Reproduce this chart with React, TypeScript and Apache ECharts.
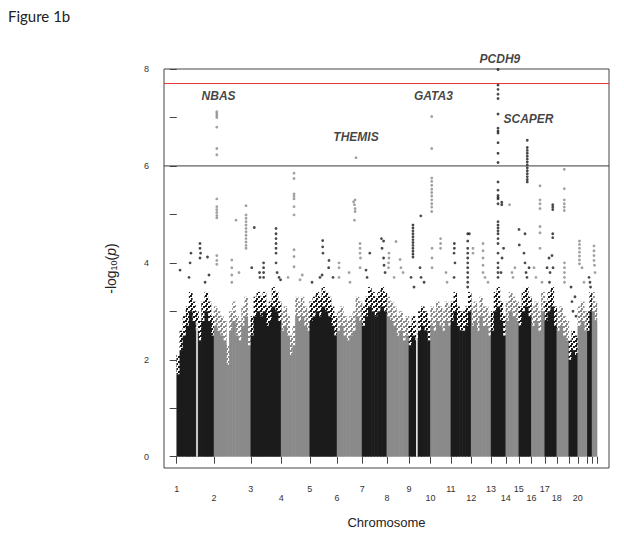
import React, { useEffect, useRef } from "react";
import * as echarts from "echarts";

// ---- data ----
const chromosomes = ["1","2","3","4","5","6","7","8","9","10","11","12","13","14","15","16","17","18","19","20","21","22"];
// plotted span of each chromosome (Mb, first to last marker)
const chrLength = [249, 245, 202, 191, 182, 167, 165, 147, 144, 136, 135, 133, 98, 87, 84, 89, 80, 80, 60, 64, 31, 33];
// chromosomes whose number is printed under the axis
const labelledChr = [1, 2, 3, 4, 5, 6, 7, 8, 9, 10, 11, 12, 13, 14, 15, 16, 17, 18, 20];

// top of the dense cloud of markers, in equal-width bins along each chromosome (-log10 p)
const massTop: number[][] = [
  [1.7, 2.2, 2.5, 2.7, 3.0, 2.8, 2.6, 2.4, 2.8, 3.0, 2.8, 2.5],
  [2.7, 2.6, 2.5, 2.4, 1.9, 2.6, 2.8, 2.5, 2.4, 2.7, 2.9, 2.3],
  [2.5, 2.9, 3.0, 2.9, 3.0, 2.7, 2.8, 3.1, 3.0, 2.8],
  [2.6, 2.7, 2.5, 2.1, 2.3, 2.9, 2.8, 2.9, 2.7, 2.6],
  [2.8, 2.9, 3.0, 2.9, 3.1, 3.0, 2.9, 2.7, 2.5],
  [2.6, 2.7, 2.5, 2.4, 2.5, 2.6, 2.9, 2.8],
  [2.7, 2.9, 3.1, 3.0, 2.9, 3.0, 3.1, 3.0],
  [2.9, 2.8, 2.7, 2.5, 2.6, 2.4, 2.5],
  [2.3, 2.5, 2.4, 2.6, 2.7, 2.6, 2.4],
  [2.7, 2.6, 2.8, 2.7, 2.6, 2.8, 2.7],
  [2.8, 3.0, 2.7, 2.6, 2.6, 2.7, 3.0],
  [2.7, 2.8, 2.6, 2.9, 2.7, 2.7, 2.5],
  [2.6, 3.0, 3.1, 2.8, 2.5],
  [2.8, 3.0, 2.9, 2.8],
  [2.7, 3.0, 3.1, 2.9],
  [2.7, 2.8, 2.6, 3.0],
  [2.8, 3.0, 3.1, 2.7],
  [2.6, 2.7, 2.5, 2.4],
  [2.0, 2.2, 2.1],
  [2.7, 2.8, 2.6],
  [2.6, 3.0],
  [3.0, 2.8],
];

// empty stretches (centromere gaps): [chr, fromMb, toMb, up to -log10 p]
const gaps: [number, number, number, number][] = [
  [1, 130, 140, 2.8],
  [9, 48, 58, 3.2],
];

// individual markers standing above the cloud: [chr, position Mb, values]
const hits: [number, number, number[]][] = [
  [1, 22, [3.85]], [1, 82, [3.7]], [1, 89, [4.0]], [1, 95, [4.2]], [1, 155, [4.4, 4.3, 4.1]],
  [1, 159, [4.2]], [1, 189, [3.6]], [1, 205, [4.12]], [1, 215, [3.75]],
  [2, 18, [7.12, 7.08, 7.04, 7.0, 6.8, 6.36, 6.23, 5.32, 5.16, 5.1, 5.04, 4.98, 4.93, 4.15, 4.05, 3.97]],
  [2, 118, [4.06, 3.9, 3.75, 3.6]], [2, 146, [4.88]], [2, 166, [3.8]],
  [2, 213, [5.18, 4.99, 4.92, 4.85, 4.78, 4.71, 4.64, 4.57, 4.5, 4.43, 4.36, 4.3]],
  [3, 6, [3.9]], [3, 23, [4.73]], [3, 58, [3.8]], [3, 61, [3.7]], [3, 85, [4.0, 3.9, 3.8, 3.7]],
  [3, 168, [4.71, 4.6, 4.5, 4.4, 4.3, 4.2, 4.0]], [3, 175, [3.8]], [3, 188, [3.7]], [3, 198, [3.65]],
  [4, 46, [3.7]], [4, 86, [5.85, 5.74, 5.42, 5.37, 5.32, 5.16, 4.99, 4.27, 4.13, 3.92]],
  [4, 126, [3.65]], [4, 141, [3.75]],
  [5, 15, [3.6]], [5, 68, [3.7]], [5, 82, [3.75]], [5, 86, [4.46, 4.33]], [5, 88, [4.2]],
  [5, 126, [3.9]], [5, 128, [4.05]], [5, 155, [3.7]],
  [6, 13, [4.0, 3.9, 3.7]], [6, 80, [3.8]], [6, 86, [3.6]], [6, 110, [5.26]], [6, 116, [5.2, 4.88]],
  [6, 120, [5.3, 5.12, 5.06]], [6, 126, [6.17]], [6, 153, [4.4, 4.3, 4.2, 3.9]], [6, 156, [4.1]],
  [7, 26, [3.85]], [7, 33, [3.7]], [7, 51, [4.2]], [7, 129, [4.5]], [7, 133, [4.3]],
  [7, 143, [4.45, 4.1]], [7, 146, [3.95]], [7, 153, [3.8]],
  [8, 11, [4.0, 3.9]], [8, 14, [4.2, 4.1]], [8, 48, [3.7]], [8, 61, [4.44]], [8, 88, [4.07]],
  [8, 94, [3.9]], [8, 108, [3.8]],
  [9, 14, [3.7]], [9, 27, [4.78, 4.72, 4.66, 4.6, 4.54, 4.48, 4.42, 4.36, 4.3, 4.24, 4.18, 4.12]],
  [9, 34, [3.5]], [9, 74, [3.9]], [9, 79, [4.97]], [9, 81, [3.7]], [9, 101, [3.6]],
  [10, 8, [7.02, 6.36, 5.75, 5.68, 5.6, 5.52, 5.45, 5.38, 5.3, 5.22, 5.15, 5.06]],
  [10, 10, [4.3, 4.1, 3.9]], [10, 67, [4.5, 4.4, 4.3]], [10, 103, [3.8]], [10, 110, [3.6]],
  [11, 21, [4.2, 3.7]], [11, 23, [4.4, 4.3]], [11, 27, [4.0]],
  [11, 112, [4.6, 4.45, 4.3, 4.2, 4.1, 4.0, 3.9, 3.8, 3.7, 3.6, 3.5]], [11, 123, [4.6]],
  [12, 12, [4.3, 4.2]], [12, 79, [4.4, 4.25, 4.1, 3.95, 3.8]], [12, 92, [3.7]], [12, 112, [3.6]],
  [13, 46, [7.99, 7.67, 7.58, 7.48, 7.39, 7.07, 6.78, 6.72, 6.68, 6.48, 6.26, 6.07, 5.67, 5.5, 5.39, 5.35, 5.32, 5.22, 4.85, 4.78, 4.72, 4.66, 4.6, 4.5, 4.4, 4.2, 4.0, 3.9, 3.8, 3.7]],
  [13, 66, [3.8]], [13, 71, [5.25, 5.2]], [13, 73, [4.1]], [13, 83, [4.3]],
  [14, 25, [5.2]], [14, 41, [3.8]], [14, 48, [3.7]], [14, 61, [3.9]],
  [15, 1, [4.69]], [15, 3, [4.37]], [15, 34, [4.2]], [15, 41, [4.6, 4.0]], [15, 48, [3.8]], [15, 54, [3.7]],
  [15, 56, [6.53, 6.38, 6.32, 6.26, 6.2, 6.14, 6.08, 6.02, 5.96, 5.9, 5.84, 5.78, 5.72, 5.67]],
  [15, 68, [3.9]],
  [16, 17, [3.9]], [16, 30, [3.7]], [16, 57, [5.59, 5.3, 5.22, 5.12, 4.75, 4.62, 4.3]], [16, 70, [3.6]],
  [17, 15, [3.9]], [17, 28, [4.1]], [17, 31, [3.6]], [17, 35, [3.8]], [17, 48, [4.15]],
  [17, 53, [5.2, 5.15, 5.1, 4.6, 4.52]], [17, 55, [3.9]],
  [18, 50, [5.93, 5.53, 5.3, 5.22, 5.15, 5.08]], [18, 51, [4.0, 3.9, 3.8, 3.7, 3.6]],
  [19, 15, [3.5]], [19, 21, [3.2]], [19, 28, [3.0]], [19, 41, [3.3]], [19, 48, [2.9]],
  [20, 11, [4.45, 4.38, 4.3, 4.22, 4.14, 4.06, 3.98]], [20, 28, [3.9]], [20, 41, [3.6]],
  [21, 11, [3.7]], [21, 17, [3.6]], [21, 21, [3.5]],
  [22, 13, [4.35, 4.25, 4.15, 4.05]], [22, 16, [3.95]], [22, 20, [3.8]],
];

// gene annotations: [gene, chr, position Mb, -log10 p of label centre]
const geneLabels: [string, number, number, number][] = [
  ["NBAS", 2, 30, 7.44],
  ["THEMIS", 6, 126, 6.59],
  ["GATA3", 10, 19, 7.45],
  ["PCDH9", 13, 59, 8.2],
  ["SCAPER", 15, 64, 6.97],
];

// significance lines: genome-wide (red) and suggestive (dark)
const genomeWideLine = 7.7;
const suggestiveLine = 6;
const yTickValues = [0, 1, 2, 3, 4, 5, 6, 7, 8];
const yLabelValues = [0, 2, 4, 6, 8];
const X_MIN = -85;
const X_MAX = 2882;

const BLACK = "#1b1b1b";
const GRAY = "#8a8a8a";
const RED = "#e53438";
const FONT = "'Liberation Sans', Arial, sans-serif";
const FRINGE = 0.4; // height of the speckled fringe drawn above each bin's solid part

function makeSpeckle(color: string): any {
  const c = document.createElement("canvas");
  c.width = 5;
  c.height = 5;
  const ctx = c.getContext("2d");
  if (ctx) {
    ctx.fillStyle = color;
    ctx.fillRect(0, 0, 2, 2);
    ctx.fillRect(3, 1, 2, 2);
    ctx.fillRect(1, 3, 2, 2);
  }
  return { image: c, repeat: "repeat" };
}

export default function App() {
  const ref = useRef<HTMLDivElement>(null);

  useEffect(() => {
    if (!ref.current) return;
    const chart = echarts.init(ref.current, undefined, { renderer: "svg" });

    const speckleBlack = makeSpeckle(BLACK);
    const speckleGray = makeSpeckle(GRAY);

    const starts: number[] = [];
    let acc = 0;
    chrLength.forEach((l) => { starts.push(acc); acc += l; });
    const genomeEnd = acc;
    const tickValues = [...starts, genomeEnd];
    const labelValues = labelledChr.map((c) => starts[c - 1]);

    const massData: any[] = [];
    massTop.forEach((bins, i) => {
      const w = chrLength[i] / bins.length;
      bins.forEach((h, j) => {
        massData.push([starts[i] + j * w, starts[i] + (j + 1) * w, h, i % 2]);
      });
    });
    const gapData = gaps.map(([c, a, b, h]) => [starts[c - 1] + a, starts[c - 1] + b, h]);

    const oddPts: number[][] = [];
    const evenPts: number[][] = [];
    hits.forEach(([c, p, vals]) => {
      vals.forEach((v) => {
        (c % 2 === 1 ? oddPts : evenPts).push([starts[c - 1] + p, v]);
      });
    });

    const geneData = geneLabels.map(([g, c, p, v]) => ({ name: g, value: [starts[c - 1] + p, v] }));

    const rect = (api: any, x0: number, x1: number, y0: number, y1: number, fill: any, pad: number) => {
      const a = api.coord([x0, y0]);
      const b = api.coord([x1, y1]);
      return {
        type: "rect",
        shape: { x: a[0] - pad, y: b[1], width: b[0] - a[0] + 2 * pad, height: a[1] - b[1] },
        style: { fill },
      };
    };

    const hLine = (name: string, y: number, color: string) => ({
      type: "line",
      name,
      data: [[X_MIN, y], [X_MAX, y]],
      symbol: "none",
      lineStyle: { color, width: 1, type: "solid" },
      itemStyle: { color },
      z: 4,
      silent: true,
    });

    chart.setOption({
      animation: false,
      textStyle: { fontFamily: FONT },
      graphic: [
        {
          type: "text",
          left: 8,
          top: 8,
          style: { text: "Figure 1b", fontSize: 15, fontFamily: "Lato, 'Open Sans', sans-serif", fill: "#222" },
        },
      ],
      grid: {
        left: 164,
        right: 15,
        top: 69,
        bottom: 75,
        show: true,
        borderColor: "#444",
        borderWidth: 1,
        backgroundColor: "transparent",
      },
      xAxis: {
        type: "value",
        min: X_MIN,
        max: X_MAX,
        name: "Chromosome",
        nameLocation: "middle",
        nameGap: 48,
        nameTextStyle: { fontSize: 13, color: "#222", fontFamily: FONT },
        axisLine: { show: false },
        splitLine: { show: false },
        axisTick: { show: true, customValues: tickValues, length: 7, lineStyle: { color: "#444", width: 1 } },
        axisLabel: {
          show: true,
          customValues: labelValues,
          margin: 16,
          fontSize: 9,
          lineHeight: 9,
          color: "#333",
          formatter: (v: number) => {
            const idx = starts.indexOf(Math.round(v));
            if (idx < 0) return "";
            const n = chromosomes[idx];
            return idx % 2 === 0 ? n : "\n" + n;
          },
        },
      },
      yAxis: {
        type: "value",
        min: -0.233,
        max: 8,
        name: "-log{sub|10}({it|p})",
        nameLocation: "middle",
        nameGap: 46,
        nameRotate: 90,
        nameTextStyle: {
          fontSize: 14,
          color: "#222",
          fontFamily: FONT,
          rich: {
            sub: { fontSize: 9, fontFamily: FONT, color: "#222", verticalAlign: "bottom", lineHeight: 14, padding: [5, 0, 0, 0] },
            it: { fontSize: 14, fontStyle: "italic", fontFamily: FONT, color: "#222" },
          },
        },
        axisLine: { show: false },
        splitLine: { show: false },
        axisTick: { show: true, customValues: yTickValues, length: 7, lineStyle: { color: "#444", width: 1 } },
        axisLabel: { show: true, customValues: yLabelValues, margin: 15, fontSize: 9, color: "#333" },
      },
      series: [
        {
          type: "custom",
          name: "cloud",
          data: massData,
          encode: { x: [0, 1], y: 2 },
          renderItem: (_p: any, api: any) => {
            const x0 = api.value(0);
            const x1 = api.value(1);
            const h = api.value(2);
            const gray = api.value(3) === 1;
            return {
              type: "group",
              children: [
                rect(api, x0, x1, h, h + FRINGE, gray ? speckleGray : speckleBlack, 0.3),
                rect(api, x0, x1, 0, h, gray ? GRAY : BLACK, 0.3),
              ],
            };
          },
          z: 1,
          silent: true,
        },
        {
          type: "custom",
          name: "gaps",
          data: gapData,
          encode: { x: [0, 1], y: 2 },
          renderItem: (_p: any, api: any) =>
            rect(api, api.value(0), api.value(1), 0, api.value(2), "#ffffff", 0),
          z: 2,
          silent: true,
        },
        {
          type: "scatter",
          name: "odd",
          data: oddPts,
          symbol: "circle",
          symbolSize: 2.8,
          itemStyle: { color: BLACK },
          z: 3,
          silent: true,
        },
        {
          type: "scatter",
          name: "even",
          data: evenPts,
          symbol: "circle",
          symbolSize: 2.8,
          itemStyle: { color: GRAY },
          z: 3,
          silent: true,
        },
        hLine("genome-wide", genomeWideLine, RED),
        hLine("suggestive", suggestiveLine, "#3a3a3a"),
        {
          type: "scatter",
          name: "genes",
          data: geneData,
          symbolSize: 0,
          clip: false,
          z: 5,
          silent: true,
          label: {
            show: true,
            position: "inside",
            formatter: "{b}",
            fontSize: 12,
            fontWeight: "bold",
            fontStyle: "italic",
            color: "#111",
            fontFamily: FONT,
          },
        },
      ],
    });

    return () => chart.dispose();
  }, []);

  return (
    <div
      ref={ref}
      style={{ position: "fixed", left: 0, top: 0, width: 624, height: 543, background: "#fff" }}
    />
  );
}
